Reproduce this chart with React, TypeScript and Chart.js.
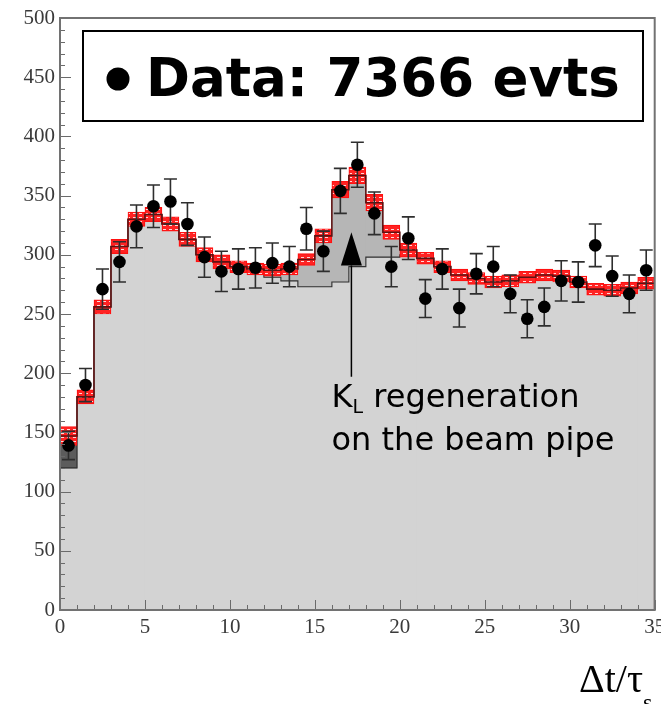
import { useEffect, useRef } from 'react';
import { Chart, registerables } from 'chart.js';

Chart.register(...registerables);

// Histogram binning on the Δt/τS axis
const binStarts = [0, 1, 2, 3, 4, 5, 6, 7, 8, 9, 10, 11, 12, 13, 14, 15, 16, 17, 18, 19, 20, 21, 22, 23, 24, 25, 26, 27, 28, 29, 30, 31, 32, 33, 34];
const BIN_WIDTH = 1;

// Measured events per bin and their statistical errors
const dataCounts = [139, 190, 271, 294, 324, 341, 345, 326, 298, 286, 288, 289, 293, 290, 322, 303, 354, 376, 335, 290, 314, 263, 288, 255, 284, 290, 267, 246, 256, 278, 277, 308, 282, 267, 287];
const dataErrors = [12, 14, 17, 17, 18, 18, 19, 18, 17, 17, 17, 17, 17, 17, 18, 17, 19, 19, 18, 17, 18, 16, 17, 16, 17, 17, 16, 16, 16, 17, 17, 18, 17, 16, 17];

// Total fit and its uncertainty band
const fitTotal = [147, 180, 256, 307, 330, 334, 326, 313, 300, 294, 290, 288, 287, 288, 296, 316, 355, 367, 344, 319, 304, 297, 290, 283, 280, 277, 278, 281, 283, 282, 277, 271, 270, 272, 276];
const fitBand = [8, 6, 6, 6, 6, 6, 6, 6, 6, 6, 5, 5, 5, 5, 5, 6, 7, 7, 7, 6, 6, 5, 5, 5, 5, 5, 5, 5, 5, 5, 5, 5, 5, 5, 5];

// Fit without the extra components (light grey)
const bkgOnly = [120, 180, 256, 307, 330, 334, 326, 313, 300, 294, 290, 286, 281, 278, 273, 273, 277, 290, 298, 298, 300, 297, 290, 283, 280, 277, 278, 281, 283, 282, 277, 271, 270, 272, 276];

// Bins where the extra component is the prompt (dark) one
const promptBins = [0];

const yTickLabels = ['0', '50', '100', '150', '200', '250', '300', '350', '400', '450', '500'];
const xTickLabels = ['0', '5', '10', '15', '20', '25', '30', '35'];

const legendText = 'Data: 7366 evts';
const noteLine1Main = 'K';
const noteLine1Sub = 'L';
const noteLine1Rest = ' regeneration';
const noteLine2 = 'on the beam pipe';

const centers = binStarts.map((s) => s + BIN_WIDTH / 2);
const lastBin = binStarts.length - 1;

function stepOutline(values: number[]) {
  const pts: { x: number; y: number }[] = [{ x: binStarts[0], y: 0 }];
  values.forEach((v, i) => pts.push({ x: binStarts[i], y: v }));
  pts.push({ x: binStarts[lastBin] + BIN_WIDTH, y: values[lastBin] });
  pts.push({ x: binStarts[lastBin] + BIN_WIDTH, y: 0 });
  return pts;
}

function makeBandPattern(ctx: CanvasRenderingContext2D) {
  const c = document.createElement('canvas');
  c.width = 6;
  c.height = 4;
  const g = c.getContext('2d')!;
  g.fillStyle = '#ff2323';
  g.fillRect(0, 0, 6, 4);
  g.fillStyle = 'rgba(255,228,228,0.95)';
  g.fillRect(1, 1, 3, 1);
  return ctx.createPattern(c, 'repeat')!;
}

const SERIF = '"Liberation Serif", "Times New Roman", serif';
const SANS = '"DejaVu Sans", sans-serif';

export default function App() {
  const canvasRef = useRef<HTMLCanvasElement | null>(null);

  useEffect(() => {
    const canvas = canvasRef.current;
    if (!canvas) return;
    const ctx = canvas.getContext('2d')!;
    const bandPattern = makeBandPattern(ctx);

    const extraBins = binStarts
      .map((_, i) => i)
      .filter((i) => fitTotal[i] > bkgOnly[i]);

    const errorBars = {
      id: 'errorBars',
      beforeDatasetDraw(chart: any, args: any) {
        if (chart.data.datasets[args.index].label !== 'Data') return;
        const { ctx: c, scales } = chart;
        c.save();
        c.strokeStyle = '#2e2e2e';
        c.lineWidth = 1.6;
        centers.forEach((cx, i) => {
          const px = scales.x.getPixelForValue(cx);
          const top = scales.y.getPixelForValue(dataCounts[i] + dataErrors[i]);
          const bot = scales.y.getPixelForValue(dataCounts[i] - dataErrors[i]);
          c.beginPath();
          c.moveTo(px, top);
          c.lineTo(px, bot);
          c.moveTo(px - 6.5, top);
          c.lineTo(px + 6.5, top);
          c.moveTo(px - 6.5, bot);
          c.lineTo(px + 6.5, bot);
          c.stroke();
        });
        c.restore();
      },
    };

    const frame = {
      id: 'frame',
      afterDatasetsDraw(chart: any) {
        const { ctx: c, chartArea: a, scales } = chart;
        c.save();
        c.strokeStyle = '#6a6a6a';
        c.lineWidth = 1;
        for (let v = 0; v <= 500; v += 10) {
          const py = Math.round(scales.y.getPixelForValue(v)) + 0.5;
          const len = v % 50 === 0 ? 11 : 5;
          c.beginPath();
          c.moveTo(a.left, py);
          c.lineTo(a.left + len, py);
          c.stroke();
        }
        for (let v = 0; v <= 35; v += 1) {
          const px = Math.round(scales.x.getPixelForValue(v)) + 0.5;
          const len = v % 5 === 0 ? 10 : 5;
          c.beginPath();
          c.moveTo(px, a.bottom);
          c.lineTo(px, a.bottom - len);
          c.stroke();
        }
        c.lineWidth = 2;
        c.strokeStyle = '#727272';
        c.strokeRect(a.left, a.top, a.right - a.left, a.bottom - a.top);
        c.restore();
      },
    };

    const decorations = {
      id: 'decorations',
      afterDraw(chart: any) {
        const { ctx: c, scales } = chart;
        c.save();

        // annotation arrow
        const ax = scales.x.getPixelForValue(17.15);
        const apex = scales.y.getPixelForValue(319);
        const base = scales.y.getPixelForValue(291);
        const tail = scales.y.getPixelForValue(197);
        c.strokeStyle = '#000';
        c.lineWidth = 1.5;
        c.beginPath();
        c.moveTo(ax, base);
        c.lineTo(ax, tail);
        c.stroke();
        c.fillStyle = '#000';
        c.beginPath();
        c.moveTo(ax, apex);
        c.lineTo(ax - 10.5, base);
        c.lineTo(ax + 10.5, base);
        c.closePath();
        c.fill();

        // annotation text
        const tx = scales.x.getPixelForValue(15.98);
        const b1 = scales.y.getPixelForValue(171.5);
        const b2 = scales.y.getPixelForValue(135.5);
        c.textBaseline = 'alphabetic';
        c.textAlign = 'left';
        c.font = `32px ${SANS}`;
        c.fillText(noteLine1Main, tx, b1);
        let cx = tx + c.measureText(noteLine1Main).width;
        c.font = `19px ${SANS}`;
        c.fillText(noteLine1Sub, cx, b1 + 6);
        cx += c.measureText(noteLine1Sub).width;
        c.font = `32px ${SANS}`;
        c.fillText(noteLine1Rest, cx, b1);
        c.fillText(noteLine2, tx, b2);

        // legend box
        c.fillStyle = '#fff';
        c.fillRect(83, 31, 560, 90);
        c.strokeStyle = '#000';
        c.lineWidth = 2;
        c.strokeRect(83, 31, 560, 90);
        c.fillStyle = '#000';
        c.beginPath();
        c.arc(118, 79, 11.5, 0, Math.PI * 2);
        c.fill();
        c.font = `bold 53px ${SANS}`;
        c.fillText(legendText, 146, 96);

        // x axis title
        c.font = `40px ${SERIF}`;
        const w = c.measureText('Δt/τ').width;
        c.fillText('Δt/τ', 643 - w, 692);
        c.font = `24px ${SERIF}`;
        c.fillText('s', 643, 710);

        c.restore();
      },
    };

    const chart = new Chart(ctx, {
      type: 'bar',
      data: {
        datasets: [
          {
            type: 'line',
            label: 'Data',
            data: centers.map((x, i) => ({ x, y: dataCounts[i] })),
            showLine: false,
            pointRadius: 6.3,
            pointHoverRadius: 6.3,
            pointBackgroundColor: '#000',
            pointBorderWidth: 0,
            order: 0,
          },
          {
            type: 'line',
            label: 'Fit',
            data: stepOutline(fitTotal),
            stepped: true,
            borderColor: '#5e1212',
            borderWidth: 1.6,
            pointRadius: 0,
            fill: false,
            order: 1,
          },
          {
            type: 'bar',
            label: 'Fit error',
            data: centers.map((x, i) => ({ x, y: [fitTotal[i] - fitBand[i], fitTotal[i] + fitBand[i]] })),
            backgroundColor: bandPattern,
            borderColor: '#ff1010',
            borderWidth: 1.2,
            borderSkipped: false,
            grouped: false,
            barPercentage: 1,
            categoryPercentage: 1,
            order: 2,
          },
          {
            type: 'line',
            label: 'Background',
            data: stepOutline(bkgOnly),
            stepped: true,
            borderColor: '#303030',
            borderWidth: 1.1,
            pointRadius: 0,
            fill: false,
            order: 3,
          },
          {
            type: 'bar',
            label: 'Extra component',
            data: extraBins.map((i) => ({ x: centers[i], y: [bkgOnly[i], fitTotal[i]] })),
            backgroundColor: extraBins.map((i) => (promptBins.includes(i) ? '#5c5c5c' : '#b6b6b6')),
            borderWidth: 0,
            grouped: false,
            barPercentage: 1,
            categoryPercentage: 1,
            order: 4,
          },
          {
            type: 'bar',
            label: 'Background fill',
            data: centers.map((x, i) => ({ x, y: bkgOnly[i] })),
            backgroundColor: '#d3d3d3',
            borderWidth: 0,
            grouped: false,
            barPercentage: 1,
            categoryPercentage: 1,
            order: 5,
          },
        ],
      },
      options: {
        responsive: false,
        animation: false,
        events: [],
        layout: { padding: { top: 18, right: 4, left: 0, bottom: 0 } },
        plugins: {
          legend: { display: false },
          tooltip: { enabled: false },
          title: { display: false },
        },
        scales: {
          x: {
            type: 'linear',
            min: 0,
            max: 35,
            offset: false,
            grid: { display: false, drawTicks: false },
            border: { display: false },
            ticks: {
              stepSize: 1,
              autoSkip: false,
              maxRotation: 0,
              padding: 5,
              color: '#3a3a3a',
              font: { family: SERIF, size: 21 },
              callback: (v: any) => (xTickLabels.includes(String(v)) ? String(v) : ''),
            },
            afterFit: (s: any) => {
              s.height = 94;
              s.paddingLeft = 0;
              s.paddingRight = 0;
            },
          },
          y: {
            min: 0,
            max: 500,
            grid: { display: false, drawTicks: false },
            border: { display: false },
            ticks: {
              stepSize: 50,
              padding: 5,
              color: '#3a3a3a',
              font: { family: SERIF, size: 21 },
              callback: (v: any) => (yTickLabels.includes(String(v)) ? String(v) : ''),
            },
            afterFit: (s: any) => {
              s.width = 60;
              s.paddingTop = 0;
              s.paddingBottom = 0;
            },
          },
        },
      },
      plugins: [errorBars, frame, decorations],
    });

    return () => chart.destroy();
  }, []);

  return (
    <div style={{ position: 'fixed', left: 0, top: 0, width: 661, height: 704, background: '#fff' }}>
      <canvas ref={canvasRef} width={661} height={704} style={{ display: 'block', width: 661, height: 704 }} />
    </div>
  );
}
